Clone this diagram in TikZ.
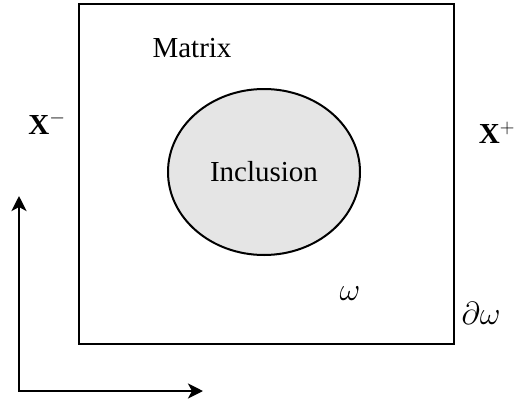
\RequirePackage{fix-cm}
\documentclass[tikz,border=0pt]{standalone}
\usepackage{fontspec}
\setmainfont{Liberation Serif}
\usetikzlibrary{positioning,arrows.meta,shapes.geometric}

\begin{document}
\begin{tikzpicture}[
x=1pt, y=-1pt,
every node/.style={
inner sep=0pt,
font=\fontsize{29}{34}\selectfont
},
mathlabel/.style={font=\fontsize{32}{38}\selectfont},
>={Stealth[length=15pt,width=15pt,inset=4pt]}
]
\useasboundingbox (0,0) rectangle (514,402);

% unit cell with the inclusion
\node (cell) [draw, line width=2.8pt, minimum width=375pt, minimum height=340pt]
at (266.5,174) {};
\node (inclusion) [ellipse, draw, line width=2pt, fill=black!10,
minimum width=192pt, minimum height=166pt] at (264,172) {Inclusion};

\node (matrix) at (192,48) {Matrix};
\node (xminus) at (47,123) {\textbf{X}$^{-}$};
\node (xplus) at (497,133) {\textbf{X}$^{+}$};
\node (omega) [mathlabel] at (350,294) {$\omega$};
\node (boundary) [mathlabel] at (481,313) {$\partial\omega$};

% axes
\coordinate (origin) at (19,391);
\coordinate (yend) at (19,196);
\coordinate (xend) at (203,391);
\draw[<->,line width=2.8pt] (yend) |- (xend);

\end{tikzpicture}
\end{document}
